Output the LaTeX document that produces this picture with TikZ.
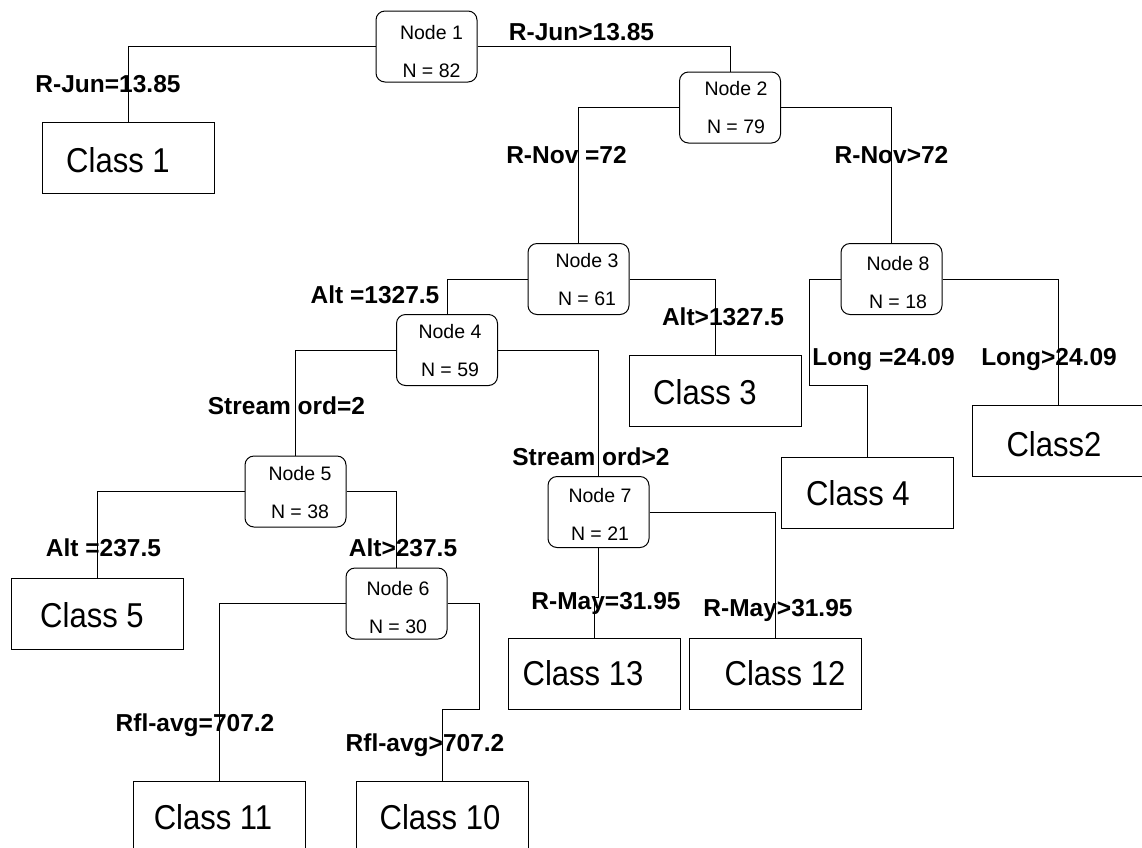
\documentclass[tikz,border=0pt]{standalone}
\usepackage{fontspec}
\setmainfont{Liberation Sans}
\newfontfamily\classfont[FakeStretch=0.9]{Liberation Sans}
\begin{document}
\begin{tikzpicture}[x=1pt,y=-1pt, line width=1pt,
 dec/.style={draw, rounded corners=9pt, minimum width=101pt, minimum height=71pt, inner sep=0pt},
 leaf/.style={draw, minimum width=172pt, minimum height=71pt, inner sep=0pt},
 dtxt/.style={inner sep=0pt, align=center, font=\fontsize{19.5}{38}\selectfont},
 ctxt/.style={inner sep=0pt, text height=24.7pt, text depth=0pt, font=\classfont\fontsize{34.5}{40}\selectfont},
 lbl/.style={inner sep=0pt, text height=17.5pt, text depth=0pt, font=\bfseries\fontsize{24.5}{28}\selectfont},
 edge/.style={draw, line width=1pt}]
\useasboundingbox (0,0) rectangle (1142,847);
\clip (0,0) rectangle (1142,847);

% decision nodes
\node[dec] (n1) at (426.5,46.5) {};
\node[dec] (n2) at (730,107.5) {};
\node[dec] (n3) at (578.5,279) {};
\node[dec] (n4) at (447,350) {};
\node[dec] (n5) at (295.5,491.5) {};
\node[dec] (n6) at (396.5,603.5) {};
\node[dec] (n7) at (598.5,512) {};
\node[dec] (n8) at (891.5,279) {};

\node[dtxt] (t1) at (431.5,51.5) {Node 1\\N = 82};
\node[dtxt] (t2) at (736,107.5) {Node 2\\N = 79};
\node[dtxt] (t3) at (587,279.5) {Node 3\\N = 61};
\node[dtxt] (t4) at (450,350.5) {Node 4\\N = 59};
\node[dtxt] (t5) at (300,492.5) {Node 5\\N = 38};
\node[dtxt] (t6) at (398,607.5) {Node 6\\N = 30};
\node[dtxt] (t7) at (600,514.5) {Node 7\\N = 21};
\node[dtxt] (t8) at (898,282.5) {Node 8\\N = 18};

% leaf boxes
\node[leaf] (c1) at (128,157.5) {};
\node[leaf] (c3) at (715,390.5) {};
\node[leaf] (c4) at (867,492.5) {};
\node[leaf] (c2) at (1058,441) {};
\node[leaf] (c5) at (97.5,613.5) {};
\node[leaf] (c11) at (219,816.5) {};
\node[leaf] (c10) at (442,816.5) {};
\node[leaf] (c13) at (594,674) {};
\node[leaf] (c12) at (775.5,674) {};

\node[ctxt] (ct1) at (118,160) {Class 1};
\node[ctxt] (ct3) at (705,392) {Class 3};
\node[ctxt] (ct4) at (858,493) {Class 4};
\node[ctxt] (ct2) at (1054,444) {Class2};
\node[ctxt] (ct5) at (92,615) {Class 5};
\node[ctxt] (ct11) at (213,817) {Class 11};
\node[ctxt] (ct10) at (440,817) {Class 10};
\node[ctxt] (ct13) at (583,673) {Class 13};
\node[ctxt] (ct12) at (785,673) {Class 12};

% bend points
\coordinate (j6a) at (479,603.5);
\coordinate (j6b) at (479,709);
\coordinate (j6c) at (442,709);
\coordinate (j7a) at (598.5,597);
\coordinate (j7b) at (594,597);
\coordinate (j8a) at (809,385);
\coordinate (j8b) at (867,385);

% connectors
\draw[edge] (n1.west) -| (c1.north);
\draw[edge] (n1.east) -| (n2.north);
\draw[edge] (n2.west) -| (n3.north);
\draw[edge] (n2.east) -| (n8.north);
\draw[edge] (n3.west) -| (n4.north);
\draw[edge] (n3.east) -| (c3.north);
\draw[edge] (n4.west) -| (n5.north);
\draw[edge] (n4.east) -| (n7.north);
\draw[edge] (n5.west) -| (c5.north);
\draw[edge] (n5.east) -| (n6.north);
\draw[edge] (n6.west) -| (c11.north);
\draw[edge] (n6.east) -- (j6a) -- (j6b) -- (j6c) -- (c10.north);
\draw[edge] (n7.south) -- (j7a) -- (j7b) -- (c13.north);
\draw[edge] (n7.east) -| (c12.north);
\draw[edge] (n8.west) -| (j8a) -- (j8b) -- (c4.north);
\draw[edge] (n8.east) -| (c2.north);

% edge labels
\node[lbl] (l1) at (108,84) {R-Jun=13.85};
\node[lbl] (l2) at (581.5,32) {R-Jun>13.85};
\node[lbl] (l3) at (566.5,155) {R-Nov =72};
\node[lbl] (l4) at (891.5,155) {R-Nov>72};
\node[lbl] (l5) at (375,295) {Alt =1327.5};
\node[lbl] (l6) at (723,317) {Alt>1327.5};
\node[lbl] (l7) at (883.5,357) {Long =24.09};
\node[lbl] (l8) at (1049,357) {Long>24.09};
\node[lbl] (l9) at (286.5,406) {Stream ord=2};
\node[lbl] (l10) at (591,457) {Stream ord>2};
\node[lbl] (l11) at (103.5,548) {Alt =237.5};
\node[lbl] (l12) at (403,548) {Alt>237.5};
\node[lbl] (l13) at (606,601) {R-May=31.95};
\node[lbl] (l14) at (778,608) {R-May>31.95};
\node[lbl] (l15) at (195,723) {Rfl-avg=707.2};
\node[lbl] (l16) at (425,743) {Rfl-avg>707.2};
\end{tikzpicture}
\end{document}
